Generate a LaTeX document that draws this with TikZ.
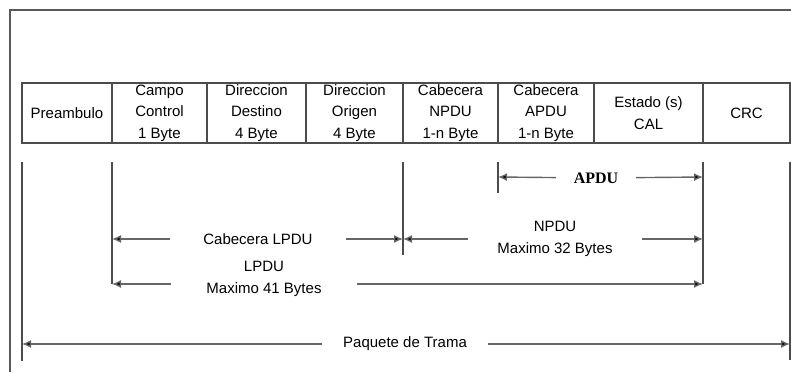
\documentclass[tikz,border=0pt]{standalone}
\usepackage{fontspec}
\setmainfont{Liberation Sans}
\newfontfamily\apdufont{Liberation Serif}
\usetikzlibrary{arrows.meta,positioning}

\begin{document}
\begin{tikzpicture}[
    x=1pt, y=-1pt,
    cell/.style={
        rectangle, draw=black!70, line width=1.4pt,
        minimum height=60pt, minimum width=#1,
        inner sep=0pt, outer sep=0pt,
        align=center, font=\fontsize{15}{21.5}\selectfont
    },
    cell/.default=90pt,
    tick/.style={draw=black!70, line width=1.4pt},
    dim/.style={-{Latex[length=9pt,width=8pt,fill=black]}, draw=black!60, line width=1.4pt},
    lbl/.style={
        align=center, inner sep=0pt, minimum width=#1,
        font=\fontsize{15}{21.5}\selectfont
    },
    lbl/.default=80pt,
    frame/.style={draw=black!65, line width=1.4pt}
]

\useasboundingbox (0,0) rectangle (791,372);

% marco
\draw[frame] (10,372) -- (10,10) -- (791,10);

% trama
\node[cell=90pt, anchor=north west] (pre) at (22,83) {Preambulo};
\node[cell=95pt, right=0pt of pre] (campo) {Campo\\Control\\1 Byte};
\node[cell=99pt, right=0pt of campo] (dest) {Direccion\\Destino\\4 Byte};
\node[cell=97pt, right=0pt of dest] (orig) {Direccion\\Origen\\4 Byte};
\node[cell=95pt, right=0pt of orig] (npdu) {Cabecera\\NPDU\\1-n Byte};
\node[cell=96pt, right=0pt of npdu] (apdu) {Cabecera\\APDU\\1-n Byte};
\node[cell=109pt, right=0pt of apdu] (cal) {Estado (s)\\CAL};
\node[cell=87pt, right=0pt of cal] (crc) {CRC};

% lineas de referencia
\coordinate (kPreT) at (22,162);   \coordinate (kPreB) at (22,361);
\coordinate (kCamT) at (112,162);  \coordinate (kCamB) at (112,284);
\coordinate (kNpdT) at (403,162);  \coordinate (kNpdB) at (403,255);
\coordinate (kApdT) at (498,162);  \coordinate (kApdB) at (498,193);
\coordinate (kCalT) at (703,162);  \coordinate (kCalB) at (703,284);
\coordinate (kCrcT) at (790,162);  \coordinate (kCrcB) at (790,360);

\draw[tick] (kPreT) -- (kPreB);
\draw[tick] (kCamT) -- (kCamB);
\draw[tick] (kNpdT) -- (kNpdB);
\draw[tick] (kApdT) -- (kApdB);
\draw[tick] (kCalT) -- (kCalB);
\draw[tick] (kCrcT) -- (kCrcB);

% extremos de las cotas
\coordinate (aL) at (498,177);  \coordinate (aR) at (703,177);
\coordinate (cL) at (112,239);  \coordinate (cR) at (403,239);
\coordinate (nL) at (403,239);  \coordinate (nR) at (703,239);
\coordinate (lL) at (112,284);  \coordinate (lR) at (703,284);
\coordinate (pL) at (22,344);   \coordinate (pR) at (790,344);

% textos de las cotas
\node[lbl=80pt, font=\apdufont\bfseries\fontsize{16}{18}\selectfont] (tApdu) at (596,178) {APDU};
\node[lbl=175pt] (tCab) at (258,239) {Cabecera LPDU};
\node[lbl=174pt] (tNpdu) at (555,239) {NPDU\\Maximo 32 Bytes};
\node[lbl=186pt] (tLpdu) at (264,279) {LPDU\\Maximo 41 Bytes};
\node[lbl=165pt] (tTrama) at (405,344) {Paquete de Trama};

% cotas
\draw[dim] (tApdu) -- (aL);
\draw[dim] (tApdu) -- (aR);
\draw[dim] (tCab) -- (cL);
\draw[dim] (tCab) -- (cR);
\draw[dim] (tNpdu) -- (nL);
\draw[dim] (tNpdu) -- (nR);
\draw[dim] (tLpdu.west |- lL) -- (lL);
\draw[dim] (tLpdu.east |- lR) -- (lR);
\draw[dim] (tTrama) -- (pL);
\draw[dim] (tTrama) -- (pR);

\end{tikzpicture}
\end{document}
